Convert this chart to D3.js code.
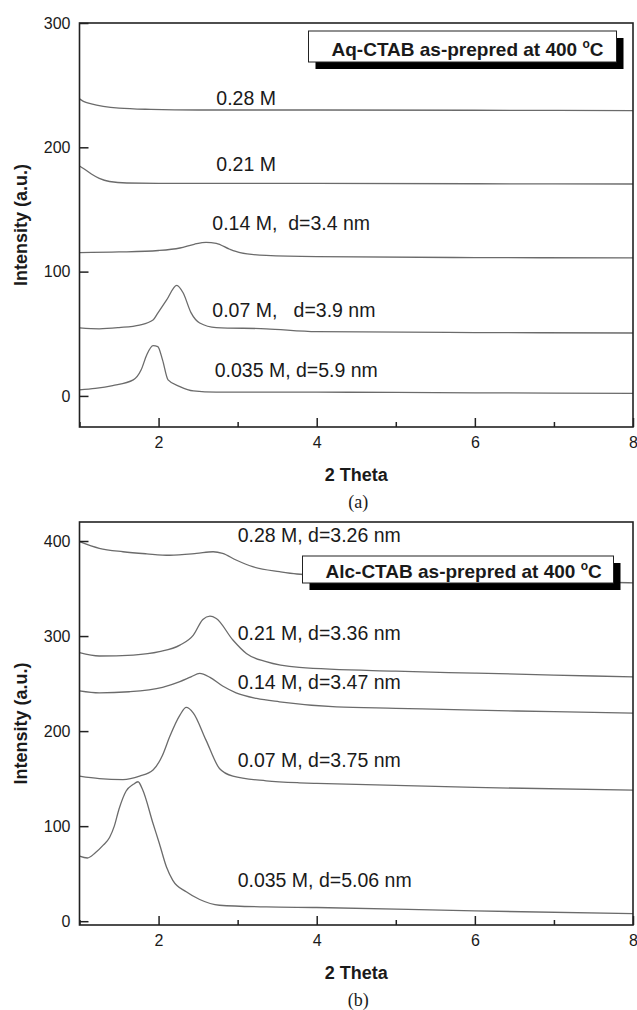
<!DOCTYPE html>
<html>
<head>
<meta charset="utf-8">
<script src="https://cdn.jsdelivr.net/npm/d3@7"></script>
<style>
  body { margin: 0; background: #fff; }
  text { font-family: "Liberation Sans", Arial, sans-serif; fill: #1a1a1a; }
</style>
</head>
<body>
<div id="chart"></div>
<script>
// panel (a): Aq-CTAB, [2 theta, intensity]
const aq028 = [[1.0,239],[1.05,237],[1.15,235],[1.3,233],[1.5,231.5],[1.9,230.5],[2.5,230],[4,230],[6,229.8],[8,229.5]];
const aq021 = [[1.0,185],[1.05,183],[1.15,178.5],[1.25,175],[1.38,172.5],[1.6,171.3],[2.2,171],[4,171],[6,170.7],[8,170.5]];
const aq014 = [[1.0,115.3],[1.5,115.8],[2.0,117],[2.27,119],[2.45,122],[2.6,123.6],[2.73,122.8],[2.9,118],[3.03,115.3],[3.36,113],[4,112],[6,111.3],[8,111]];
const aq007 = [[1.0,54.7],[1.25,54],[1.5,55],[1.76,57],[1.93,61],[1.99,66.6],[2.1,77],[2.23,89],[2.31,83],[2.41,67],[2.52,58.7],[2.73,55],[3.36,54],[4,51.7],[6,51],[8,50.6]];
const aq0035 = [[1.0,4.8],[1.2,6],[1.42,8.3],[1.68,12.9],[1.78,21],[1.85,33],[1.93,40.5],[1.99,39.7],[2.05,29],[2.12,12.9],[2.27,7.5],[2.44,4],[2.73,3],[4,3],[6,2.5],[8,2]];

// panel (b): Alc-CTAB
const alc028 = [[1.0,399.3],[1.25,392.3],[1.55,388.7],[1.85,386.5],[2.14,385],[2.48,386.9],[2.69,388.7],[2.81,387],[2.98,380],[3.19,373],[3.53,367.7],[3.75,365.3],[5,361],[6,359],[7,357.5],[8,356]];
const alc021 = [[1.0,282.5],[1.25,279],[1.68,280],[2.01,283.5],[2.27,290.5],[2.44,301],[2.56,317.5],[2.65,321],[2.73,318.5],[2.94,295.8],[3.11,281.7],[3.36,273],[3.78,267],[5,263],[6,261],[7,259],[8,257]];
const alc014 = [[1.0,242.4],[1.25,240.3],[1.63,241.4],[2.05,246],[2.27,252],[2.41,257],[2.52,260.7],[2.65,256.5],[2.81,247.4],[2.98,240.3],[3.24,234.4],[3.53,230.8],[4.25,225.5],[5,224],[6,222],[7,220.5],[8,219]];
const alc007 = [[1.0,152.6],[1.25,150],[1.55,149],[1.76,152.6],[1.93,159],[2.05,174.7],[2.14,194],[2.27,216.8],[2.35,224.9],[2.44,219],[2.6,190.5],[2.77,160.7],[2.94,152.6],[3.36,147.7],[3.78,145.6],[4,145],[6,140.7],[8,138]];
const alc0035 = [[1.0,68.4],[1.1,66.5],[1.2,72],[1.3,80],[1.38,88],[1.44,100],[1.5,118],[1.59,137],[1.68,144],[1.74,146.7],[1.8,138],[1.93,102.8],[2.01,81.8],[2.1,57],[2.18,43],[2.35,30.9],[2.52,22.8],[2.77,16.8],[3.36,15],[4,14.4],[6,10.8],[8,8]];

const labelsA = ["0.28 M", "0.21 M", "0.14 M,  d=3.4 nm", "0.07 M,   d=3.9 nm", "0.035 M, d=5.9 nm"];
const labelsB = ["0.28 M, d=3.26 nm", "0.21 M, d=3.36 nm", "0.14 M, d=3.47 nm", "0.07 M, d=3.75 nm", "0.035 M, d=5.06 nm"];
// label anchors in data units
const labelAtA = [[2.73,234],[2.73,181],[2.68,133.5],[2.68,63.6],[2.71,15.3]];
const labelAtB = [[3.0,399],[3.0,295.8],[3.0,244.2],[3.0,162],[3.0,35.8]];

const xMajor = [2, 4, 6, 8];
const xMinor = [1, 3, 5, 7];
const yTicksA = [0, 100, 200, 300];
const yTicksB = [0, 100, 200, 300, 400];

const width = 637, height = 1010;
const left = 79.5, right = 633;

const panels = [
  { top: 23, bottom: 427, yDomain: [-25, 300], yTicks: yTicksA,
    series: [aq028, aq021, aq014, aq007, aq0035], labels: labelsA, labelAt: labelAtA,
    legend: "Aq-CTAB as-prepred at 400 ", box: { x: 229, y: 8, w: 308, h: 31, ty: 25, tx: 23 }, caption: "(a)" },
  { top: 522, bottom: 925, yDomain: [-4, 420], yTicks: yTicksB,
    series: [alc028, alc021, alc014, alc007, alc0035], labels: labelsB, labelAt: labelAtB,
    legend: "Alc-CTAB as-prepred at 400 ", box: { x: 223, y: 34, w: 311, h: 27, ty: 22, tx: 23 }, caption: "(b)" }
];

const svg = d3.select("#chart").append("svg")
  .attr("width", width)
  .attr("height", height);

panels.forEach(p => {
  const x = d3.scaleLinear().domain([1, 8]).range([left, right]);
  const y = d3.scaleLinear().domain(p.yDomain).range([p.bottom, p.top]);
  const g = svg.append("g");

  const line = d3.line()
    .x(d => x(d[0]))
    .y(d => y(d[1]))
    .curve(d3.curveMonotoneX);

  g.selectAll(".curve").data(p.series).enter().append("path")
    .attr("class", "curve")
    .attr("fill", "none")
    .attr("stroke", "#6b6b6b")
    .attr("stroke-width", 1.3)
    .attr("d", line);

  g.selectAll(".clabel").data(p.labels).enter().append("text")
    .attr("class", "clabel")
    .attr("x", (d, i) => x(p.labelAt[i][0]))
    .attr("y", (d, i) => y(p.labelAt[i][1]))
    .style("white-space", "pre")
    .style("font-size", "19.5px")
    .text(d => d);

  // axes, ticks inward
  const xAxisG = g.append("g").attr("transform", `translate(0,${p.bottom})`)
    .call(d3.axisBottom(x).tickValues(xMajor).tickSize(-9).tickPadding(10).tickFormat(d3.format("d")));
  const xMinorG = g.append("g").attr("transform", `translate(0,${p.bottom})`)
    .call(d3.axisBottom(x).tickValues(xMinor).tickSize(-5).tickFormat(""));
  const yAxisG = g.append("g").attr("transform", `translate(${left},0)`)
    .call(d3.axisLeft(y).tickValues(p.yTicks).tickSize(-9).tickPadding(9));

  [xAxisG, xMinorG, yAxisG].forEach(a => {
    a.select(".domain").remove();
    a.attr("font-size", null).attr("font-family", null);
    a.selectAll(".tick line").attr("stroke", "#222").attr("stroke-width", 1.5);
    a.selectAll(".tick text").style("font-size", "16px").attr("fill", "#1a1a1a");
  });

  // frame
  g.append("rect")
    .attr("x", left).attr("y", p.top)
    .attr("width", right - left).attr("height", p.bottom - p.top)
    .attr("fill", "none").attr("stroke", "#222").attr("stroke-width", 1.6);

  // legend box with shadow
  const b = p.box;
  const lg = g.append("g").attr("transform", `translate(${left + b.x},${p.top + b.y})`);
  lg.append("rect").attr("x", 7).attr("y", 7).attr("width", b.w).attr("height", b.h).attr("fill", "#000");
  lg.append("rect").attr("width", b.w).attr("height", b.h)
    .attr("fill", "#fff").attr("stroke", "#222").attr("stroke-width", 1);
  const lt = lg.append("text").attr("x", b.tx).attr("y", b.ty)
    .style("font-size", "19px").attr("font-weight", "bold")
    .style("white-space", "pre");
  lt.append("tspan").text(p.legend);
  lt.append("tspan").style("font-size", "12px").attr("dy", -8).text("o");
  lt.append("tspan").attr("dy", 8).text("C");

  // axis titles
  g.append("text")
    .attr("x", (left + right) / 2).attr("y", p.bottom + 54)
    .attr("text-anchor", "middle").style("font-size", "18px").attr("font-weight", "bold")
    .text("2 Theta");

  g.append("text")
    .attr("transform", `translate(27,${(p.top + p.bottom) / 2}) rotate(-90)`)
    .attr("text-anchor", "middle").style("font-size", "18px").attr("font-weight", "bold")
    .text("Intensity (a.u.)");

  g.append("text")
    .attr("x", (left + right) / 2 + 2).attr("y", p.bottom + 81)
    .attr("text-anchor", "middle").style("font-size", "18px")
    .style("font-family", "Liberation Serif, Times New Roman, serif")
    .text(p.caption);
});
</script>
</body>
</html>
